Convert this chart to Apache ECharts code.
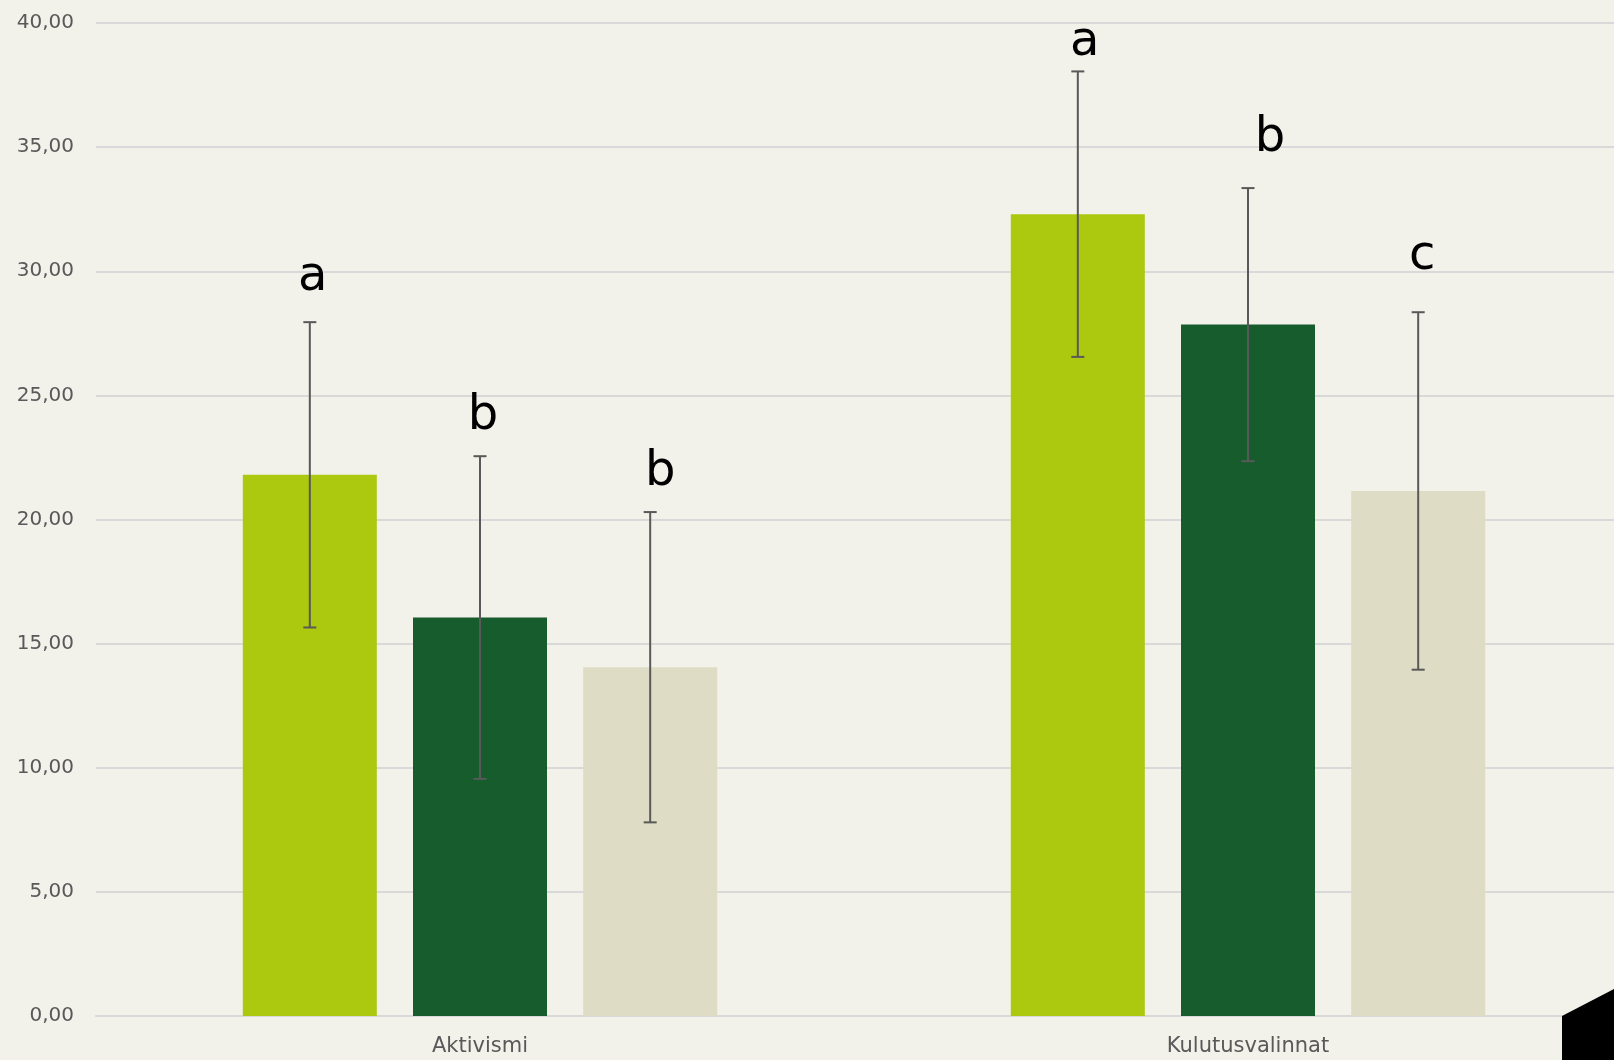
<!DOCTYPE html>
<html>
<head>
<meta charset="utf-8">
<script src="https://cdn.jsdelivr.net/npm/echarts@6/dist/echarts.min.js"></script>
<style>
html,body{margin:0;padding:0;background:#f2f1ea;}
#c{width:1614px;height:1060px;}
</style>
</head>
<body>
<div id="c"></div>
<script>
// ---- data ----
const categories = ['Aktivismi', 'Kulutusvalinnat'];
const yTicks = [0, 5, 10, 15, 20, 25, 30, 35, 40];
const values1 = [21.8, 32.3];
const values2 = [16.05, 27.85];
const values3 = [14.05, 21.15];
const err1 = [6.15, 5.75];
const err2 = [6.5, 5.5];
const err3 = [6.25, 7.2];
const letters1 = ['a', 'a'];
const letters2 = ['b', 'b'];
const letters3 = ['b', 'c'];
const letterY1 = [29.75, 39.2];
const letterY2 = [24.15, 35.35];
const letterY3 = [21.9, 30.6];

// ---- style ----
const colors = ['#acc90f', '#165c2d', '#dedcc5'];
const BAR_W = 134;
const BAR_GAP_PCT = 27;
const letterDx = [[3, 7], [3, 22], [10, 4]];

const values = [values1, values2, values3];
const errs = [err1, err2, err3];
const letters = [letters1, letters2, letters3];
const letterY = [letterY1, letterY2, letterY3];

const errData = [];
const letterData = [];
for (let s = 0; s < 3; s++) {
  for (let c = 0; c < categories.length; c++) {
    errData.push([c, values[s][c], errs[s][c], s]);
    letterData.push([c, letterY[s][c], s, letters[s][c]]);
  }
}
const step = BAR_W * (1 + BAR_GAP_PCT / 100);

const chart = echarts.init(document.getElementById('c'));
const barSeries = values.map((v, i) => ({
  type: 'bar',
  data: v,
  barWidth: BAR_W,
  barGap: BAR_GAP_PCT + '%',
  itemStyle: { color: colors[i] },
  z: 2
}));

chart.setOption({
  backgroundColor: '#f2f1ea',
  animation: false,
  grid: { left: 96, right: -18, top: 23, bottom: 44, containLabel: false, outerBoundsMode: 'none' },
  xAxis: {
    type: 'category',
    data: categories,
    axisLine: { show: true, lineStyle: { color: '#d9d9d9', width: 2 } },
    axisTick: { show: false },
    axisLabel: { color: '#595959', fontSize: 21, fontFamily: 'DejaVu Sans', margin: 20 },
    splitLine: { show: false }
  },
  yAxis: {
    type: 'value',
    min: yTicks[0],
    max: yTicks[yTicks.length - 1],
    interval: 5,
    axisLine: { show: false },
    axisTick: { show: false },
    axisLabel: {
      color: '#595959', fontSize: 20, fontFamily: 'DejaVu Sans', margin: 22,
      formatter: v => v.toFixed(2).replace('.', ',')
    },
    splitLine: { lineStyle: { color: '#d9d9d9', width: 2 } }
  },
  series: barSeries.concat([
    {
      type: 'custom',
      z: 5,
      data: errData,
      encode: { x: 0, y: 1 },
      renderItem: function (params, api) {
        const c = api.value(0), v = api.value(1), e = api.value(2), s = api.value(3);
        const center = api.coord([c, v]);
        const x = center[0] + (s - 1) * step;
        const yTop = api.coord([c, v + e])[1];
        const yBot = api.coord([c, v - e])[1];
        const cap = 6.5;
        const st = { stroke: '#595959', lineWidth: 2 };
        return {
          type: 'group',
          children: [
            { type: 'line', shape: { x1: x, y1: yTop, x2: x, y2: yBot }, style: st },
            { type: 'line', shape: { x1: x - cap, y1: yTop, x2: x + cap, y2: yTop }, style: st },
            { type: 'line', shape: { x1: x - cap, y1: yBot, x2: x + cap, y2: yBot }, style: st }
          ]
        };
      }
    },
    {
      type: 'custom',
      z: 6,
      data: letterData,
      encode: { x: 0, y: 1 },
      renderItem: function (params, api) {
        const c = api.value(0), y = api.value(1), s = api.value(2);
        const t = letterData[params.dataIndex][3];
        const p = api.coord([c, y]);
        const x = p[0] + (s - 1) * step + letterDx[s][c];
        return {
          type: 'text',
          style: {
            text: t, x: x, y: p[1],
            align: 'center', verticalAlign: 'middle',
            fill: '#000000', fontSize: 48, fontFamily: 'DejaVu Sans'
          }
        };
      }
    }
  ]),
  graphic: [
    {
      type: 'polygon',
      z: 100,
      shape: { points: [[1562, 1016], [1614, 989], [1614, 1060], [1562, 1060]] },
      style: { fill: '#000000' }
    }
  ]
});
</script>
</body>
</html>
